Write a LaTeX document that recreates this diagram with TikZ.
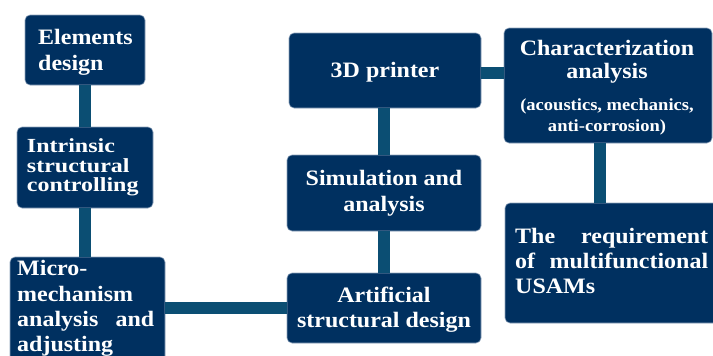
\documentclass[tikz,border=0pt]{standalone}
\usepackage{fontspec}
\setmainfont[FakeStretch=1.09]{Liberation Serif}
\newfontfamily\widefont[FakeStretch=1.2]{Liberation Serif}
\usetikzlibrary{calc}
\definecolor{boxblue}{HTML}{003060}
\definecolor{linkblue}{HTML}{0B4E73}
\definecolor{edgeblue}{HTML}{8FA3BC}
\begin{document}
\begin{tikzpicture}[x=1pt,y=-1pt,
  box/.style={draw=edgeblue, line width=0.6pt, fill=boxblue, rounded corners=5pt,
    text=white, font=\bfseries\fontsize{22}{25}\selectfont, inner sep=0pt},
  link/.style={draw=linkblue, line width=12.5pt},
  txt/.style={text=white, font=\bfseries\fontsize{22}{25}\selectfont, inner sep=0pt, anchor=base west},
  ctxt/.style={text=white, font=\bfseries\fontsize{22}{25}\selectfont, inner sep=0pt, anchor=base},
  subtxt/.style={text=white, font=\bfseries\fontsize{17}{21}\selectfont, inner sep=0pt, anchor=base}]
\useasboundingbox (0,0) rectangle (713,356);
\clip (0,0) rectangle (713,356);

% boxes
\node[box, minimum width=120pt, minimum height=70pt, text width=94pt, align=left] (E) at (85,50) {};
\node[box, minimum width=136pt, minimum height=81pt, text width=116pt, align=left,
  font=\widefont\bfseries\fontsize{20}{19.5}\selectfont] (I) at (85,167.5) {Intrinsic\\structural\\controlling};
\node[box, minimum width=155pt, minimum height=108pt] (M) at (87.5,311) {};
\node[box, minimum width=192pt, minimum height=75pt] (P) at (385,70.5) {};
\node[box, minimum width=208pt, minimum height=115pt] (C) at (608,85.5) {};
\node[box, minimum width=194pt, minimum height=76pt] (S) at (384,193) {};
\node[box, minimum width=194pt, minimum height=70pt] (A) at (384,308) {};
\node[box, minimum width=217pt, minimum height=120pt] (R) at (613.5,263) {};

% texts in E
\node[txt] (e1) at (38,45) {Elements};
\node[txt] (e2) at (38,70) {design};

% text in P
\node[ctxt] (p1) at (385,77) {3D printer};

% texts in S
\node[ctxt] (s1) at (384,185) {Simulation and};
\node[ctxt] (s2) at (384,211) {analysis};

% texts in A
\node[ctxt] (a1) at (384,302) {Artificial};
\node[ctxt] (a2) at (384,327) {structural design};

% texts in C
\node[ctxt] (c1) at (607,55) {Characterization};
\node[ctxt] (c2) at (607,78) {analysis};
\node[subtxt] (c3) at (607,110) {(acoustics, mechanics,};
\node[subtxt] (c4) at (607,131) {anti-corrosion)};

% texts in M
\node[txt] (m1) at (17,275) {Micro-};
\node[txt] (m2) at (17,301) {mechanism};
\node[txt] (m3) at (17,326) {\makebox[137pt][s]{analysis and}};
\node[txt] (m4) at (17,351) {adjusting};

% texts in R
\node[txt] (r1) at (515,243) {\makebox[193pt][s]{The requirement}};
\node[txt] (r2) at (515,268) {\makebox[193pt][s]{of multifunctional}};
\node[txt] (r3) at (515,293) {USAMs};

% connectors
\draw[link] (E) -- (I);
\draw[link] (I.south) -- (I.south |- M.north);
\draw[link] (A.west -| M.east) -- (A.west);
\draw[link] (A) -- (S);
\draw[link] (S.north) -- (S.north |- P.south);
\draw[link] ([yshift=-2.5pt]P.east) -- ([yshift=-2.5pt]P.east -| C.west);
\draw[link] ([xshift=-8pt]C.south) -- ([xshift=-8pt]C.south |- R.north);
\end{tikzpicture}
\end{document}
